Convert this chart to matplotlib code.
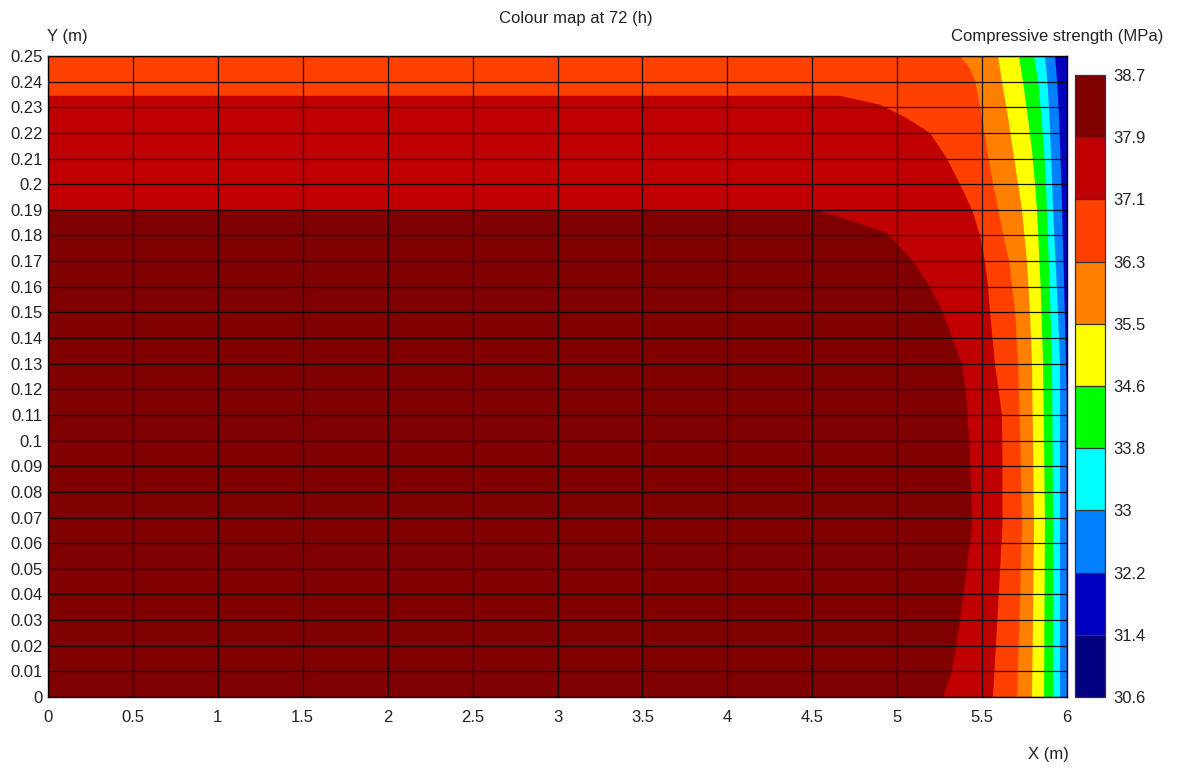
import matplotlib
matplotlib.use("Agg")
import matplotlib.pyplot as plt
import matplotlib.cm as cm
from matplotlib.colors import ListedColormap, BoundaryNorm
import numpy as np

plt.rcParams["font.family"] = ["Liberation Sans", "DejaVu Sans"]

# Strength classes (MPa) and their colours, lowest to highest
levels = [30.6, 31.4, 32.2, 33.0, 33.8, 34.6, 35.5, 36.3, 37.1, 37.9, 38.7]
band_colors = ["#000080", "#0000c0", "#0080ff", "#00ffff", "#00ff00",
               "#ffff00", "#ff8000", "#ff4000", "#c00000", "#800000"]

X_MAX = 6.0
Y_MAX = 0.25

# Iso-strength lines (x in m, y in m); each separates a class from the next lower one
iso_37_9_x = [0.0, 4.55, 4.72, 4.94, 5.093, 5.193, 5.27, 5.323, 5.382, 5.41, 5.425, 5.435, 5.441, 5.411, 5.37, 5.323, 5.27]
iso_37_9_y = [0.1895, 0.1895, 0.186, 0.181, 0.17, 0.16, 0.15, 0.14, 0.13, 0.115, 0.10, 0.085, 0.067, 0.05, 0.03, 0.01, 0.0]

iso_37_1_x = [0.0, 4.66, 4.9, 5.05, 5.193, 5.263, 5.293, 5.37, 5.441, 5.488, 5.517, 5.535, 5.547, 5.576, 5.617, 5.62, 5.62, 5.59, 5.564]
iso_37_1_y = [0.2345, 0.2345, 0.231, 0.226, 0.22, 0.213, 0.21, 0.20, 0.19, 0.18, 0.17, 0.16, 0.15, 0.13, 0.11, 0.09, 0.067, 0.03, 0.0]

iso_36_3_x = [5.37, 5.43, 5.46, 5.50, 5.53, 5.565, 5.595, 5.625, 5.66, 5.695, 5.712, 5.725, 5.735, 5.72, 5.706]
iso_36_3_y = [0.25, 0.245, 0.24, 0.226, 0.213, 0.20, 0.19, 0.18, 0.17, 0.15, 0.13, 0.10, 0.067, 0.03, 0.0]

iso_35_5_x = [5.594, 5.617, 5.653, 5.682, 5.712, 5.735, 5.764, 5.782, 5.794, 5.80, 5.806, 5.80, 5.794]
iso_35_5_y = [0.25, 0.24, 0.226, 0.213, 0.20, 0.19, 0.17, 0.15, 0.13, 0.10, 0.067, 0.03, 0.0]

iso_34_6_x = [5.717, 5.741, 5.77, 5.794, 5.812, 5.823, 5.845, 5.859, 5.865, 5.87, 5.867, 5.865]
iso_34_6_y = [0.25, 0.24, 0.226, 0.213, 0.20, 0.19, 0.16, 0.13, 0.10, 0.067, 0.03, 0.0]

iso_33_8_x = [5.806, 5.83, 5.85, 5.865, 5.876, 5.882, 5.898, 5.912, 5.915, 5.918, 5.918]
iso_33_8_y = [0.25, 0.24, 0.226, 0.213, 0.20, 0.19, 0.16, 0.13, 0.10, 0.067, 0.0]

iso_33_0_x = [5.87, 5.885, 5.897, 5.905, 5.913, 5.918, 5.94, 5.959, 5.959]
iso_33_0_y = [0.25, 0.24, 0.226, 0.213, 0.20, 0.19, 0.16, 0.13, 0.0]

iso_32_2_x = [5.929, 5.942, 5.953, 5.96, 5.967, 5.971, 5.983, 5.994, 6.0]
iso_32_2_y = [0.25, 0.24, 0.226, 0.213, 0.20, 0.19, 0.16, 0.13, 0.12]

iso_lines = [
    (iso_37_9_x, iso_37_9_y, band_colors[8]),
    (iso_37_1_x, iso_37_1_y, band_colors[7]),
    (iso_36_3_x, iso_36_3_y, band_colors[6]),
    (iso_35_5_x, iso_35_5_y, band_colors[5]),
    (iso_34_6_x, iso_34_6_y, band_colors[4]),
    (iso_33_8_x, iso_33_8_y, band_colors[3]),
    (iso_33_0_x, iso_33_0_y, band_colors[2]),
    (iso_32_2_x, iso_32_2_y, band_colors[1]),
]


def lower_side(xs, ys):
    """Polygon covering the side of an iso-line towards the cooled corner."""
    px, py = list(xs), list(ys)
    if py[-1] == 0.0:
        px.append(X_MAX); py.append(0.0)
    px.append(X_MAX); py.append(Y_MAX)
    if px[0] == 0.0:
        px.append(0.0); py.append(Y_MAX)
    return px, py


fig = plt.figure(figsize=(11.78, 7.72), dpi=100)
ax = fig.add_axes([48 / 1178, 75 / 772, 1019 / 1178, 641 / 772])

# highest class fills the whole section, lower classes are painted over it
ax.fill([0, X_MAX, X_MAX, 0], [0, 0, Y_MAX, Y_MAX], color=band_colors[9], lw=0)
for xs, ys, col in iso_lines:
    px, py = lower_side(xs, ys)
    ax.fill(px, py, color=col, lw=0)

ax.set_xlim(0, X_MAX)
ax.set_ylim(0, Y_MAX)
xt = np.round(np.arange(0, 6.01, 0.5), 2)
yt = np.round(np.arange(0, 0.2501, 0.01), 2)
ax.set_xticks(xt)
ax.set_yticks(yt)
ax.set_xticklabels(["%g" % v for v in xt])
ax.set_yticklabels(["%g" % v for v in yt])
ax.tick_params(axis="both", length=0, labelsize=12, colors="#222222")
ax.tick_params(axis="x", pad=9)
ax.tick_params(axis="y", pad=4)
ax.set_axisbelow(False)
ax.grid(True, color="black", lw=0.9, alpha=0.9)
for sp in ax.spines.values():
    sp.set_color("black")
    sp.set_linewidth(1.0)

# colour scale
cax = fig.add_axes([1075 / 1178, 75 / 772, 30 / 1178, 622 / 772])
cmap = ListedColormap(band_colors)
norm = BoundaryNorm(levels, cmap.N)
cb = fig.colorbar(cm.ScalarMappable(norm=norm, cmap=cmap), cax=cax,
                  ticks=levels, drawedges=True)
cb.ax.set_yticklabels(["%g" % v for v in levels])
cb.ax.tick_params(length=0, pad=6, labelsize=12, colors="#222222")
cb.outline.set_linewidth(0.9)
cb.outline.set_edgecolor("#333333")
cb.dividers.set_color("#333333")
cb.dividers.set_linewidth(0.9)

fig.text(576 / 1178, 1 - 18 / 772, "Colour map at 72 (h)", ha="center", va="center",
         fontsize=12, color="#222222")
fig.text(47 / 1178, 1 - 37 / 772, "Y (m)", ha="left", va="center",
         fontsize=12, color="#222222")
fig.text(1057 / 1178, 1 - 37 / 772, "Compressive strength (MPa)", ha="center", va="center",
         fontsize=12, color="#222222")
fig.text(1048 / 1178, 1 - 755 / 772, "X (m)", ha="center", va="center",
         fontsize=12, color="#222222")

fig.savefig("out.png", dpi=100, facecolor="white")
